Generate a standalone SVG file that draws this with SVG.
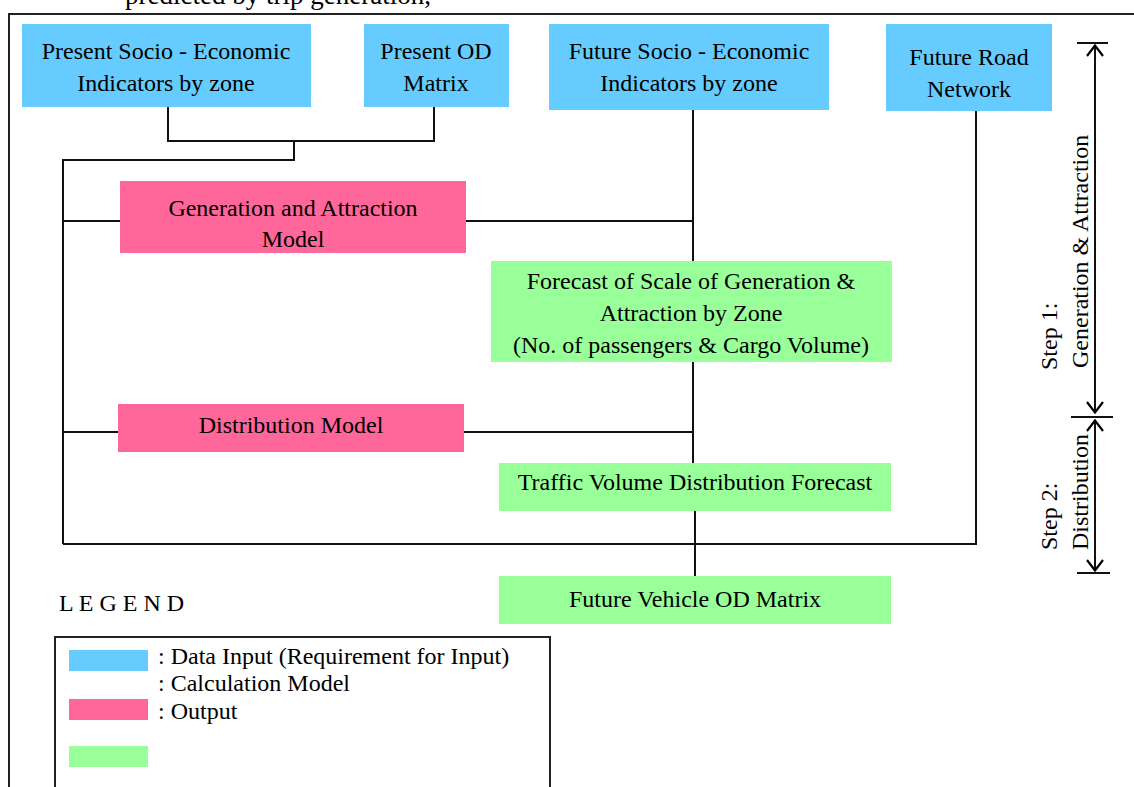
<svg xmlns="http://www.w3.org/2000/svg" width="1134" height="787" viewBox="0 0 1134 787">
  <defs>
    <style>
      text { font-family: "Liberation Serif", "Times New Roman", serif; fill: #000; }
      .t { font-size: 24px; text-anchor: middle; }
      .lg { font-size: 24px; }
      .input { fill: #66CCFF; }
      .model { fill: #FF6699; }
      .output { fill: #99FF99; }
      .ln { fill: none; stroke: #111; stroke-width: 2; }
      .frame { fill: none; stroke: #222; stroke-width: 2; }
    </style>
    <marker id="chev" viewBox="0 0 14 20" refX="13" refY="10" markerWidth="14" markerHeight="20" markerUnits="userSpaceOnUse" orient="auto-start-reverse">
      <path d="M2 2 L12.5 10 L2 18" fill="none" stroke="#000" stroke-width="2.2"/>
    </marker>
  </defs>

  <rect width="1134" height="787" fill="#fff"/>

  <!-- page frame and cut-off caption above it -->
  <text x="125" y="4" style="font-size:27px">predicted by trip generation,</text>
  <path class="frame" d="M9 787 V14 H1134"/>

  <!-- connectors -->
  <g id="connectors" class="ln">
    <path d="M168 107 V141 H434 V107"/>
    <path d="M294 141 V160 H63 V544"/>
    <path d="M63 221 H120"/>
    <path d="M466 221 H693"/>
    <path d="M693 110 V261"/>
    <path d="M693 362 V463"/>
    <path d="M63 432 H118"/>
    <path d="M464 432 H693"/>
    <path d="M695 511 V576"/>
    <path d="M63 544 H976 V111"/>
  </g>

  <!-- data inputs -->
  <g id="present-socio">
    <rect class="input" x="22" y="24" width="289" height="83"/>
    <text class="t" x="166" y="59">Present Socio - Economic</text>
    <text class="t" x="166" y="91">Indicators by zone</text>
  </g>
  <g id="present-od">
    <rect class="input" x="364" y="24" width="145" height="83"/>
    <text class="t" x="436" y="59">Present OD</text>
    <text class="t" x="436" y="91">Matrix</text>
  </g>
  <g id="future-socio">
    <rect class="input" x="549" y="24" width="280" height="86"/>
    <text class="t" x="689" y="59">Future Socio - Economic</text>
    <text class="t" x="689" y="91">Indicators by zone</text>
  </g>
  <g id="future-road">
    <rect class="input" x="886" y="24" width="166" height="87"/>
    <text class="t" x="969" y="65">Future Road</text>
    <text class="t" x="969" y="97">Network</text>
  </g>

  <!-- models -->
  <g id="gen-attr-model">
    <rect class="model" x="120" y="181" width="346" height="72"/>
    <text class="t" x="293" y="216">Generation and Attraction</text>
    <text class="t" x="293" y="247">Model</text>
  </g>
  <g id="distribution-model">
    <rect class="model" x="118" y="404" width="346" height="48"/>
    <text class="t" x="291" y="433">Distribution Model</text>
  </g>

  <!-- outputs -->
  <g id="forecast-gen-attr">
    <rect class="output" x="491" y="261" width="401" height="101"/>
    <text class="t" x="691" y="289">Forecast of Scale of Generation &amp;</text>
    <text class="t" x="691" y="321">Attraction by Zone</text>
    <text class="t" x="691" y="353">(No. of passengers &amp; Cargo Volume)</text>
  </g>
  <g id="traffic-distribution">
    <rect class="output" x="499" y="463" width="392" height="48"/>
    <text class="t" x="695" y="490">Traffic Volume Distribution Forecast</text>
  </g>
  <g id="future-vehicle-od">
    <rect class="output" x="499" y="576" width="392" height="48"/>
    <text class="t" x="695" y="607">Future Vehicle OD Matrix</text>
  </g>

  <!-- step brackets -->
  <g id="steps">
    <path class="ln" d="M1077 43 H1108 M1071 417 H1113 M1077 573 H1110"/>
    <path class="ln" d="M1095 45 V413" marker-start="url(#chev)" marker-end="url(#chev)"/>
    <path class="ln" d="M1095 420 V571" marker-start="url(#chev)" marker-end="url(#chev)"/>
    <text class="t" style="text-anchor:start" transform="translate(1057 370) rotate(-90)">Step 1:</text>
    <text class="t" style="text-anchor:start" transform="translate(1088 368) rotate(-90)">Generation &amp; Attraction</text>
    <text class="t" style="text-anchor:start" transform="translate(1057 550) rotate(-90)">Step 2:</text>
    <text class="t" style="text-anchor:start" transform="translate(1088 550) rotate(-90)">Distribution</text>
  </g>

  <!-- legend -->
  <g id="legend">
    <text class="lg" x="59" y="611">L E G E N D</text>
    <rect class="frame" x="55" y="637" width="495" height="160"/>
    <rect class="input" x="69" y="650" width="79" height="21"/>
    <rect class="model" x="69" y="699" width="79" height="21"/>
    <rect class="output" x="69" y="746" width="79" height="21"/>
    <text class="lg" x="158" y="664">: Data Input (Requirement for Input)</text>
    <text class="lg" x="158" y="691">: Calculation Model</text>
    <text class="lg" x="158" y="719">: Output</text>
  </g>
</svg>
